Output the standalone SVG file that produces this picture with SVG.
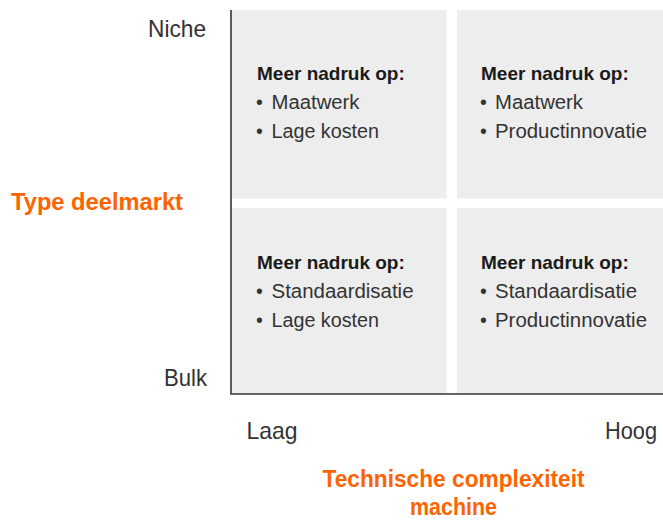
<svg xmlns="http://www.w3.org/2000/svg" width="663" height="521" viewBox="0 0 663 521">
  <style>
    .cell { fill: #ededed; }
    .axis { stroke: #333333; stroke-width: 1.6; fill: none; }
    .head { font-family: "Liberation Sans", Arial, sans-serif; font-weight: bold; font-size: 19px; fill: #1a1a1a; }
    .item { font-family: "Liberation Sans", Arial, sans-serif; font-size: 19.5px; fill: #333333; }
    .tick { font-family: "Liberation Sans", Arial, sans-serif; font-size: 24px; fill: #333333; }
    .title { font-family: "Liberation Sans", Arial, sans-serif; font-weight: bold; font-size: 23.5px; fill: #ff6200; }
  </style>

  <!-- quadrant: niche / low complexity -->
  <g id="q-niche-laag">
    <rect class="cell" x="232" y="10" width="214.5" height="188.5"/>
    <text class="head" x="257" y="80">Meer nadruk op:</text>
    <text class="item" x="256" y="109">•</text>
    <text class="item" x="271.5" y="109" textLength="88" lengthAdjust="spacingAndGlyphs">Maatwerk</text>
    <text class="item" x="256" y="138">•</text>
    <text class="item" x="271.5" y="138" textLength="107.5" lengthAdjust="spacingAndGlyphs">Lage kosten</text>
  </g>

  <!-- quadrant: niche / high complexity -->
  <g id="q-niche-hoog">
    <rect class="cell" x="457" y="10" width="206" height="188.5"/>
    <text class="head" x="481" y="80">Meer nadruk op:</text>
    <text class="item" x="480" y="109">•</text>
    <text class="item" x="495" y="109" textLength="88" lengthAdjust="spacingAndGlyphs">Maatwerk</text>
    <text class="item" x="480" y="138">•</text>
    <text class="item" x="495" y="138" textLength="152" lengthAdjust="spacingAndGlyphs">Productinnovatie</text>
  </g>

  <!-- quadrant: bulk / low complexity -->
  <g id="q-bulk-laag">
    <rect class="cell" x="232" y="208" width="214.5" height="185.5"/>
    <text class="head" x="257" y="269">Meer nadruk op:</text>
    <text class="item" x="256" y="298">•</text>
    <text class="item" x="271.5" y="298" textLength="142" lengthAdjust="spacingAndGlyphs">Standaardisatie</text>
    <text class="item" x="256" y="327">•</text>
    <text class="item" x="271.5" y="327" textLength="107.5" lengthAdjust="spacingAndGlyphs">Lage kosten</text>
  </g>

  <!-- quadrant: bulk / high complexity -->
  <g id="q-bulk-hoog">
    <rect class="cell" x="457" y="208" width="206" height="185.5"/>
    <text class="head" x="481" y="269">Meer nadruk op:</text>
    <text class="item" x="480" y="298">•</text>
    <text class="item" x="495" y="298" textLength="142" lengthAdjust="spacingAndGlyphs">Standaardisatie</text>
    <text class="item" x="480" y="327">•</text>
    <text class="item" x="495" y="327" textLength="152" lengthAdjust="spacingAndGlyphs">Productinnovatie</text>
  </g>

  <!-- axes -->
  <g id="connectors">
    <path class="axis" d="M231 10 V394 H663"/>
  </g>

  <!-- axis labels -->
  <g id="y-axis-labels">
    <text class="tick" x="206" y="37" text-anchor="end" textLength="58" lengthAdjust="spacingAndGlyphs">Niche</text>
    <text class="tick" x="207" y="386" text-anchor="end" textLength="43" lengthAdjust="spacingAndGlyphs">Bulk</text>
    <text class="title" x="11" y="210" textLength="172" lengthAdjust="spacingAndGlyphs">Type deelmarkt</text>
  </g>
  <g id="x-axis-labels">
    <text class="tick" x="246.5" y="439" textLength="51" lengthAdjust="spacingAndGlyphs">Laag</text>
    <text class="tick" x="605" y="439" textLength="52" lengthAdjust="spacingAndGlyphs">Hoog</text>
    <text class="title" x="453.5" y="487" text-anchor="middle" textLength="262" lengthAdjust="spacingAndGlyphs">Technische complexiteit</text>
    <text class="title" x="453.5" y="515" text-anchor="middle" textLength="87" lengthAdjust="spacingAndGlyphs">machine</text>
  </g>
</svg>
